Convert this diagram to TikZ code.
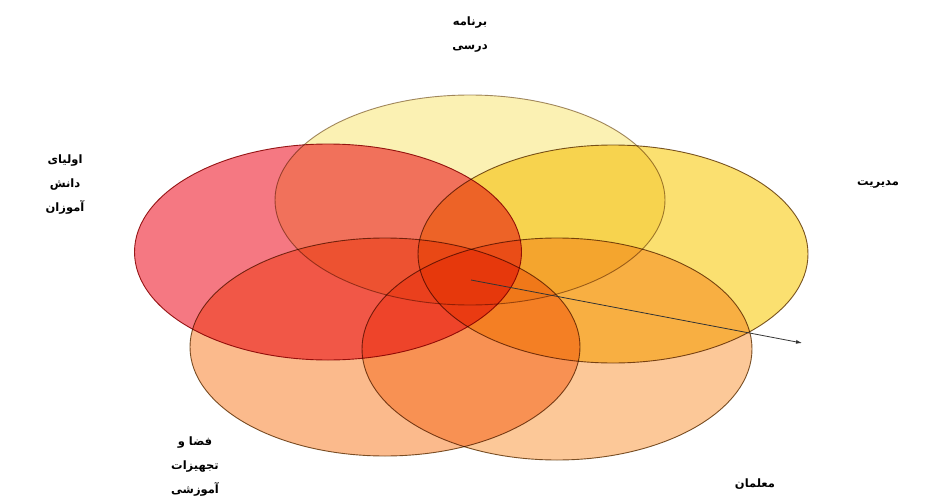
\documentclass[tikz,border=0pt]{standalone}
\usepackage{fontspec}
\newfontfamily\arabicfont[Script=Arabic]{DejaVu Sans}
\TeXXeTstate=1
\usetikzlibrary{shapes.geometric,arrows.meta}
\definecolor{cTop}{HTML}{FBF1B3}
\definecolor{cRed}{HTML}{F57882}
\definecolor{cYel}{HTML}{FBE070}
\definecolor{cOrA}{HTML}{FBBA8C}
\definecolor{cOrB}{HTML}{FCC898}
\definecolor{cEdge}{HTML}{7A5A30}
\definecolor{cEdgeR}{HTML}{9A2020}
\newcommand{\rl}[1]{\beginR #1\endR}
\tikzset{
  venn/.style={ellipse, inner sep=0pt, blend mode=multiply, line width=0.9pt},
  lbl/.style={font=\arabicfont\bfseries\fontsize{11.5}{24}\selectfont, align=center, text=black},
}
\begin{document}
\begin{tikzpicture}[x=1pt,y=-1pt]
\useasboundingbox (0,0) rectangle (925,500);
\fill[white] (0,0) rectangle (925,500);
\node[venn, fill=cTop, draw=cEdge!70, minimum width=390pt, minimum height=210pt] (prog) at (470,200) {};
\node[venn, fill=cRed, draw=cEdgeR, minimum width=387pt, minimum height=216pt] (par) at (328,252) {};
\node[venn, fill=cYel, draw=cEdge, minimum width=390pt, minimum height=218pt] (man) at (613,254) {};
\node[venn, fill=cOrA, draw=cEdge, minimum width=390pt, minimum height=218pt] (spc) at (385,347) {};
\node[venn, fill=cOrB, draw=cEdge, minimum width=390pt, minimum height=222pt] (tch) at (557,349) {};
\coordinate (a0) at (471,280);
\coordinate (a1) at (802,343);
\draw[line width=0.8pt, draw=black!80, -{Latex[length=6pt,width=4pt]}] (a0) -- (a1);
\node[lbl] (tprog) at (470,35) {\rl{برنامه}\\\rl{درسی}};
\node[lbl] (tpar) at (65,185) {\rl{اولیای}\\\rl{دانش}\\\rl{آموزان}};
\node[lbl] (tman) at (878,185) {\rl{مدیریت}};
\node[lbl] (tspc) at (195,467) {\rl{فضا و}\\\rl{تجهیزات}\\\rl{آموزشی}};
\node[lbl] (ttch) at (755,484) {\rl{معلمان}};
\end{tikzpicture}
\end{document}
